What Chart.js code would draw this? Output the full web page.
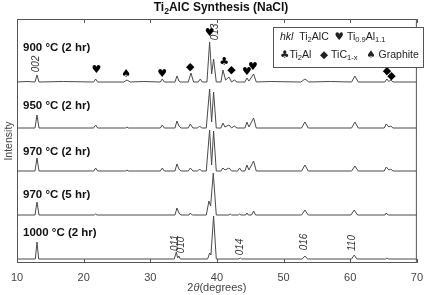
<!DOCTYPE html>
<html>
<head>
<meta charset="utf-8">
<script src="https://cdn.jsdelivr.net/npm/chart.js@4/dist/chart.umd.min.js"></script>
<style>
html, body { margin: 0; padding: 0; background: #fff; }
</style>
</head>
<body>
<canvas id="xrdChart" width="431" height="295"></canvas>
<script>
// samples, from top trace to bottom trace
var samples = ["900 °C (2 hr)", "950 °C (2 hr)", "970 °C (2 hr)", "970 °C (5 hr)", "1000 °C (2 hr)"];
var offsets = [181, 135, 92, 48, 4];
var labelLevels = [215, 157, 111, 68, 30];
var xTicks = [10, 20, 30, 40, 50, 60, 70];

// [2theta, intensity above baseline]
var trace900 = [[10,0],[11.5,0.5],[12.7,0],[13.0,7],[13.3,0],[17,0.5],[21.5,0],[21.8,3],[22.1,0],[26.0,0],[26.5,2],[27.0,0],[29,0.5],
  [31.5,0],[31.8,3],[32.1,0],[33.7,0],[34.0,6],[34.3,1],[34.5,0],[35.7,0],[36.1,9],[36.5,0],[37.2,0],[37.5,3],[37.8,0],
  [38.5,0],[38.9,40],[39.2,8],[39.5,23],[39.9,0],[40.6,0],[40.9,12],[41.3,2],[41.8,5],[42.2,0],[42.6,2],[43.0,0],
  [44.2,0],[44.5,4],[44.8,1],[45.5,8],[45.9,0],[48,0.5],[52.6,0],[53.2,3],[53.8,0],[57,0.5],[60.2,0],[60.7,6],[61.2,0],
  [65.2,0],[65.5,3],[65.8,0.5],[66.1,2],[66.4,0],[70,0]];
var trace950 = [[10,0],[12.7,0],[13.0,13],[13.3,0],[21.5,0],[21.8,3],[22.1,0],[26.3,0],[26.5,1],[26.7,0],[31.5,0],[31.8,3],[32.1,0],
  [33.7,0],[34.0,7],[34.3,2],[34.6,0],[35.7,0],[36.0,4],[36.4,0],[37.1,0],[37.4,2],[37.7,0],[38.4,0],[38.9,39],[39.2,6],
  [39.5,36],[39.9,0],[40.6,0],[40.9,5],[41.2,1],[41.8,3],[42.2,0],[42.6,2],[43.0,0],[44.2,0],[44.5,6],[44.8,1],[45.5,10],
  [45.9,0],[52.7,0],[53.2,6],[53.7,0],[60.2,0],[60.7,6],[61.2,0],[65.1,0],[65.4,4],[65.8,1],[66.1,2],[66.4,0],[70,0]];
var trace970a = [[10,0],[12.7,0],[13.0,13],[13.3,0],[21.5,0],[21.8,3],[22.1,0],[26.3,0],[26.5,1],[26.7,0],[31.5,0],[31.8,3],[32.1,0],
  [33.7,0],[34.0,7],[34.3,2],[34.6,0],[35.7,0],[36.0,3],[36.4,0],[37.1,0],[37.4,2],[37.7,0],[38.4,0],[38.9,41],[39.2,6],
  [39.5,40],[39.9,0],[40.6,0],[40.9,3],[41.2,1],[41.8,3],[42.2,0],[43.1,0],[43.4,3],[43.7,0],[44.2,0],[44.5,6],[44.8,1],
  [45.5,10],[45.9,0],[52.7,0],[53.2,6],[53.7,0],[60.2,0],[60.7,5],[61.2,0],[65.1,0],[65.4,4],[65.8,1],[66.1,2],[66.4,0],[70,0]];
var trace970b = [[10,0],[12.7,0],[13.0,13],[13.3,0],[21.6,0],[21.8,1],[22.0,0],[33.7,0],[34.0,7],[34.3,2],[34.6,0],[35.8,0],
  [36.0,2],[36.3,0],[38.4,0],[38.8,14],[39.05,9],[39.45,42],[39.9,0],[41.8,0],[42.0,1],[42.2,0],[43.2,0],[43.4,1],[43.6,0],
  [44.3,0],[44.5,2],[44.7,0],[45.2,0],[45.5,4],[45.8,0],[52.7,0],[53.2,5],[53.7,0],[60.1,0],[60.6,5],[61.1,0],[65.2,0],
  [65.4,2],[65.7,0],[70,0]];
var trace1000 = [[10,0],[12.75,0],[13.0,17],[13.25,0],[33.6,0],[33.9,7],[34.1,1],[34.3,3],[34.5,0],[38.6,0],[38.9,6],[39.1,4],
  [39.5,43],[39.9,0],[43.3,0],[43.5,1],[43.7,0],[52.8,0],[53.2,3],[53.6,0],[60.2,0],[60.6,4],[61.0,0],[65.3,0],[65.5,1],
  [65.7,0],[70,0]];
var traces = [trace900, trace950, trace970a, trace970b, trace1000];

// hkl reflections of Ti2AlC: [label, 2theta, level]
var hklLabels = [["002",12.95,199],["013",39.8,231],["011",33.7,20],["010",34.6,18],["014",43.5,16],["016",53.1,21],["110",60.3,20]];
// phase markers: [symbol, 2theta, level]
var phaseMarks = [["♥",21.9,193],["♠",26.4,189],["♥",31.8,189],["◆",36.0,196],["♥",38.9,230],["♣",41.1,201],
  ["◆",42.2,193],["♥",44.5,191],["♥",45.4,196],["◆",65.5,192],["◆",66.2,187]];

var SANS = "'Liberation Sans', Arial, sans-serif";

function richWidth(ctx, parts, size) {
  var w = 0;
  parts.forEach(function (p) {
    ctx.font = partFont(p[1] || "", size);
    w += ctx.measureText(p[0]).width;
  });
  return w;
}
function partFont(st, size) {
  var fs = st.indexOf("s") >= 0 ? size * 0.72 : size;
  var style = "";
  if (st.indexOf("i") >= 0) style += "italic ";
  if (st.indexOf("b") >= 0) style += "bold ";
  var fam = st.indexOf("y") >= 0 ? "'DejaVu Sans'" : SANS;
  return style + fs + "px " + fam;
}
function drawRich(ctx, parts, x, y, size) {
  parts.forEach(function (p) {
    var st = p[1] || "";
    var dy = st.indexOf("s") >= 0 ? size * 0.32 : 0;
    ctx.font = partFont(st, size);
    ctx.fillText(p[0], x, y + dy);
    x += ctx.measureText(p[0]).width;
  });
  return x;
}

var extras = {
  id: "extras",
  afterDraw: function (chart) {
    var ctx = chart.ctx, a = chart.chartArea;
    var sx = chart.scales.x, sy = chart.scales.y;
    ctx.save();
    ctx.textBaseline = "middle";
    ctx.textAlign = "left";

    // frame + inward ticks
    ctx.strokeStyle = "#555";
    ctx.lineWidth = 1;
    ctx.strokeRect(a.left + 0.5, a.top + 0.5, a.right - a.left - 1, a.bottom - a.top - 1);
    xTicks.forEach(function (v) {
      var px = Math.round(sx.getPixelForValue(v)) + 0.5;
      ctx.beginPath();
      ctx.moveTo(px, a.bottom); ctx.lineTo(px, a.bottom - 4);
      ctx.moveTo(px, a.top); ctx.lineTo(px, a.top + 4);
      ctx.stroke();
    });

    // title
    ctx.fillStyle = "#111";
    var tParts = [["Ti", "b"], ["2", "bs"], ["AlC Synthesis (NaCl)", "b"]];
    drawRich(ctx, tParts, 221 - richWidth(ctx, tParts, 12) / 2, 8, 12);

    // axis titles
    ctx.fillStyle = "#444";
    var xParts = [["2"], ["θ", "i"], ["(degrees)"]];
    drawRich(ctx, xParts, (a.left + a.right) / 2 - richWidth(ctx, xParts, 11) / 2, 288, 11);
    ctx.save();
    ctx.translate(9, (a.top + a.bottom) / 2);
    ctx.rotate(-Math.PI / 2);
    ctx.textAlign = "center";
    ctx.font = "10.5px " + SANS;
    ctx.fillText("Intensity", 0, 0);
    ctx.restore();

    // sample labels
    ctx.fillStyle = "#111";
    ctx.font = "bold 11.5px " + SANS;
    samples.forEach(function (s, i) {
      ctx.fillText(s, a.left + 6, sy.getPixelForValue(labelLevels[i]));
    });

    // hkl labels
    ctx.fillStyle = "#333";
    ctx.font = "italic 10px " + SANS;
    hklLabels.forEach(function (h) {
      ctx.save();
      ctx.translate(sx.getPixelForValue(h[1]), sy.getPixelForValue(h[2]));
      ctx.rotate(-Math.PI / 2);
      ctx.textAlign = "center";
      ctx.fillText(h[0], 0, 0);
      ctx.restore();
    });

    // phase markers
    ctx.fillStyle = "#000";
    ctx.textAlign = "center";
    ctx.font = "11px 'DejaVu Sans'";
    phaseMarks.forEach(function (m) {
      ctx.fillText(m[0], sx.getPixelForValue(m[1]), sy.getPixelForValue(m[2]));
    });

    // legend box
    ctx.textAlign = "left";
    ctx.fillStyle = "#fff";
    ctx.fillRect(273.5, 27.5, 150, 40);
    ctx.strokeStyle = "#555";
    ctx.strokeRect(273.5, 27.5, 150, 40);
    ctx.fillStyle = "#222";
    drawRich(ctx, [["hkl", "i"], ["  Ti"], ["2", "s"], ["AlC  "], ["♥", "y"], [" Ti"], ["0.9", "s"], ["Al"], ["1.1", "s"]], 280, 37, 10.5);
    drawRich(ctx, [["♣", "y"], ["Ti"], ["2", "s"], ["Al   "], ["◆", "y"], [" TiC"], ["1-x", "s"], ["   "], ["♠", "y"], [" Graphite"]], 280, 55, 10.5);

    ctx.restore();
  }
};

var datasets = traces.map(function (t, i) {
  return {
    label: samples[i],
    data: t.map(function (p) { return { x: p[0], y: p[1] + offsets[i] }; }),
    borderColor: "#4a4a4a",
    borderWidth: 1,
    pointRadius: 0,
    tension: 0,
    fill: false
  };
});

new Chart(document.getElementById("xrdChart"), {
  type: "line",
  data: { datasets: datasets },
  options: {
    responsive: false,
    animation: false,
    layout: { padding: { top: 19, left: 17, right: 7, bottom: 0 } },
    plugins: { legend: { display: false }, title: { display: false }, tooltip: { enabled: false } },
    scales: {
      x: {
        type: "linear",
        min: 10,
        max: 70,
        grid: { display: false, drawTicks: false },
        border: { display: false },
        ticks: { stepSize: 10, padding: 8, color: "#444", font: { size: 11, family: SANS } },
        afterFit: function (s) { s.height = 32; }
      },
      y: { display: false, min: 0, max: 244 }
    }
  },
  plugins: [extras]
});
</script>
</body>
</html>
